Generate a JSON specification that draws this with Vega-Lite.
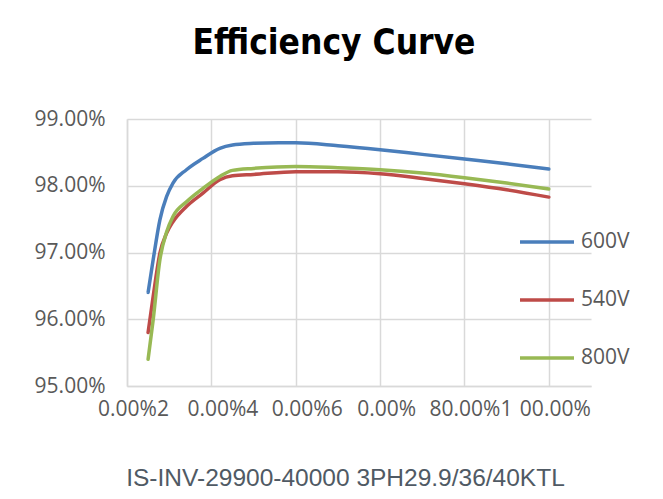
{
  "$schema": "https://vega.github.io/schema/vega-lite/v6.json",
  "width": 464,
  "height": 267,
  "autosize": {"type": "none"},
  "padding": {"left": 127, "top": 119, "right": 72, "bottom": 113},
  "background": "white",
  "title": {
    "text": "Efficiency Curve",
    "font": "DejaVu Sans Condensed",
    "fontWeight": "bold",
    "fontSize": 35,
    "color": "#000000",
    "anchor": "middle",
    "frame": "group",
    "baseline": "alphabetic",
    "offset": 19,
    "dx": -25
  },
  "data": {
    "values": [
      {"load": 0.05, "efficiency": 0.9640, "series": "600V"},
      {"load": 0.062, "efficiency": 0.9689, "series": "600V"},
      {"load": 0.078, "efficiency": 0.9749, "series": "600V"},
      {"load": 0.094, "efficiency": 0.9784, "series": "600V"},
      {"load": 0.109, "efficiency": 0.9804, "series": "600V"},
      {"load": 0.141, "efficiency": 0.9824, "series": "600V"},
      {"load": 0.18, "efficiency": 0.9841, "series": "600V"},
      {"load": 0.22, "efficiency": 0.9856, "series": "600V"},
      {"load": 0.25, "efficiency": 0.9861, "series": "600V"},
      {"load": 0.30, "efficiency": 0.98635, "series": "600V"},
      {"load": 0.36, "efficiency": 0.98645, "series": "600V"},
      {"load": 0.40, "efficiency": 0.98645, "series": "600V"},
      {"load": 0.50, "efficiency": 0.9860, "series": "600V"},
      {"load": 0.60, "efficiency": 0.9854, "series": "600V"},
      {"load": 0.70, "efficiency": 0.9847, "series": "600V"},
      {"load": 0.80, "efficiency": 0.9840, "series": "600V"},
      {"load": 0.90, "efficiency": 0.9833, "series": "600V"},
      {"load": 1.00, "efficiency": 0.9825, "series": "600V"},
      {"load": 0.05, "efficiency": 0.9580, "series": "540V"},
      {"load": 0.062, "efficiency": 0.9634, "series": "540V"},
      {"load": 0.078, "efficiency": 0.9699, "series": "540V"},
      {"load": 0.094, "efficiency": 0.9729, "series": "540V"},
      {"load": 0.109, "efficiency": 0.9746, "series": "540V"},
      {"load": 0.141, "efficiency": 0.9769, "series": "540V"},
      {"load": 0.18, "efficiency": 0.9789, "series": "540V"},
      {"load": 0.22, "efficiency": 0.9809, "series": "540V"},
      {"load": 0.25, "efficiency": 0.9815, "series": "540V"},
      {"load": 0.30, "efficiency": 0.9817, "series": "540V"},
      {"load": 0.40, "efficiency": 0.9821, "series": "540V"},
      {"load": 0.50, "efficiency": 0.9821, "series": "540V"},
      {"load": 0.60, "efficiency": 0.9818, "series": "540V"},
      {"load": 0.70, "efficiency": 0.9811, "series": "540V"},
      {"load": 0.80, "efficiency": 0.9803, "series": "540V"},
      {"load": 0.90, "efficiency": 0.9794, "series": "540V"},
      {"load": 1.00, "efficiency": 0.9783, "series": "540V"},
      {"load": 0.05, "efficiency": 0.9540, "series": "800V"},
      {"load": 0.062, "efficiency": 0.9599, "series": "800V"},
      {"load": 0.078, "efficiency": 0.9689, "series": "800V"},
      {"load": 0.094, "efficiency": 0.9731, "series": "800V"},
      {"load": 0.109, "efficiency": 0.9754, "series": "800V"},
      {"load": 0.141, "efficiency": 0.9776, "series": "800V"},
      {"load": 0.18, "efficiency": 0.9796, "series": "800V"},
      {"load": 0.22, "efficiency": 0.9814, "series": "800V"},
      {"load": 0.25, "efficiency": 0.9823, "series": "800V"},
      {"load": 0.30, "efficiency": 0.9826, "series": "800V"},
      {"load": 0.40, "efficiency": 0.9829, "series": "800V"},
      {"load": 0.50, "efficiency": 0.9827, "series": "800V"},
      {"load": 0.60, "efficiency": 0.9824, "series": "800V"},
      {"load": 0.70, "efficiency": 0.9819, "series": "800V"},
      {"load": 0.80, "efficiency": 0.9812, "series": "800V"},
      {"load": 0.90, "efficiency": 0.9804, "series": "800V"},
      {"load": 1.00, "efficiency": 0.9795, "series": "800V"}
    ]
  },
  "mark": {"type": "line", "interpolate": "monotone", "strokeWidth": 3.5, "strokeCap": "round"},
  "encoding": {
    "x": {
      "field": "load",
      "type": "quantitative",
      "scale": {"domain": [0, 1.1], "nice": false, "zero": false},
      "axis": {
        "values": [0, 0.2, 0.4, 0.6, 0.8, 1.0],
        "labelExpr": "['0.00%2','0.00%4','0.00%6','0.00%','80.00%1','00.00%'][round(datum.value*5)]",
        "labelFont": "Open Sans",
        "labelFontSize": 21,
        "labelColor": "#595959",
        "labelPadding": 12,
        "labelOffset": {"condition": {"test": "datum.value > 0.1 && datum.value < 0.5", "value": 11}, "value": 6},
        "labelFlush": false,
        "labelOverlap": false,
        "ticks": false,
        "tickSize": 0,
        "domainColor": "#D9D9D9",
        "domainWidth": 1.5,
        "gridColor": "#D9D9D9",
        "gridWidth": 1.5,
        "title": "IS-INV-29900-40000 3PH29.9/36/40KTL",
        "titleFont": "Liberation Sans",
        "titleFontSize": 24.5,
        "titleFontWeight": "normal",
        "titleColor": "#505A64",
        "titleX": 218,
        "titleY": 99,
        "titleAlign": "center",
        "titleBaseline": "alphabetic"
      }
    },
    "y": {
      "field": "efficiency",
      "type": "quantitative",
      "scale": {"domain": [0.95, 0.99], "nice": false, "zero": false},
      "axis": {
        "values": [0.95, 0.96, 0.97, 0.98, 0.99],
        "format": ".2%",
        "labelFont": "Open Sans",
        "labelFontSize": 21,
        "labelColor": "#595959",
        "labelPadding": 22,
        "ticks": false,
        "tickSize": 0,
        "domainColor": "#D9D9D9",
        "domainWidth": 1.5,
        "gridColor": "#D9D9D9",
        "gridWidth": 1.5,
        "title": null
      }
    },
    "color": {
      "field": "series",
      "type": "nominal",
      "scale": {"domain": ["600V", "540V", "800V"], "range": ["#4A7EBB", "#BE4B48", "#98B954"]},
      "legend": {
        "title": null,
        "orient": "none",
        "legendX": 391,
        "legendY": 94,
        "symbolType": "stroke",
        "symbolSize": 2916,
        "symbolStrokeWidth": 3.5,
        "labelFont": "Open Sans",
        "labelFontSize": 21,
        "labelColor": "#595959",
        "labelOffset": 5,
        "rowPadding": 19
      }
    }
  },
  "config": {"view": {"stroke": null}}
}
